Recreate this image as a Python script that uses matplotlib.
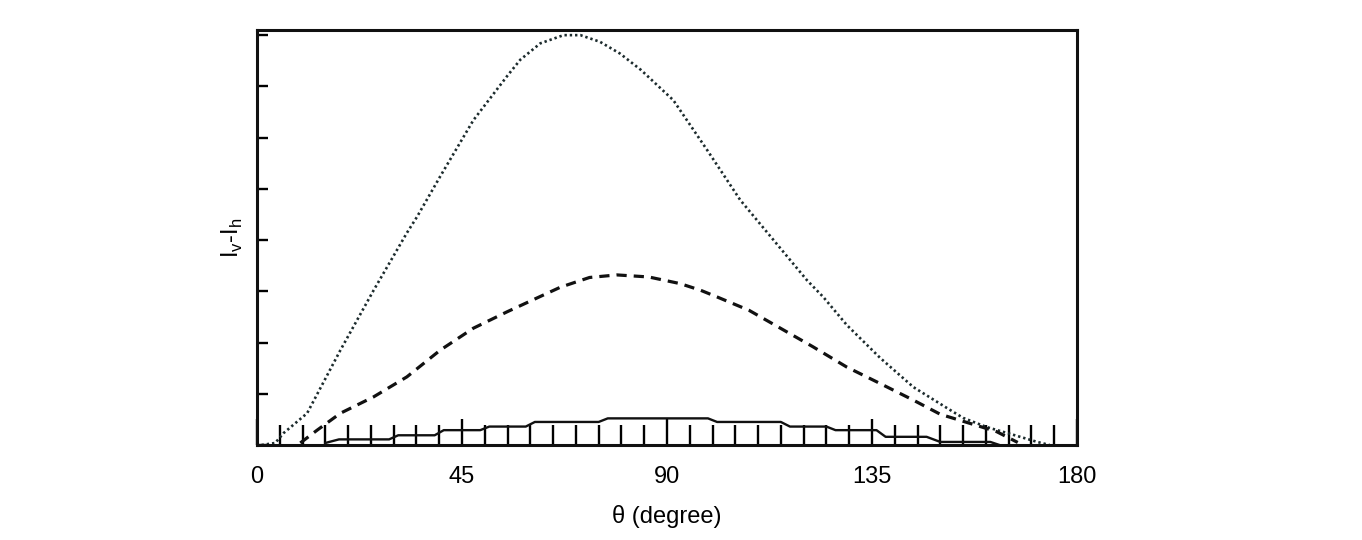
import matplotlib
matplotlib.use("Agg")
import matplotlib.pyplot as plt

plt.rcParams["font.family"] = ["Liberation Sans", "DejaVu Sans"]

# dotted curve (largest)
theta_dot = [1, 4, 5.8, 11, 18.3, 25.6, 32.9, 35.1, 40.2, 47.5, 54.9, 57.8, 62.2, 67.3, 71,
             75.3, 79.7, 84.3, 91.4, 98.8, 106.1, 113.4, 120.7, 124.3, 129.5, 136.8, 144.1,
             151.5, 155, 160.2, 166, 171.3, 174]
val_dot = [0.0, 0.04, 0.23, 0.62, 1.85, 3.02, 4.14, 4.45, 5.24, 6.34, 7.2, 7.52, 7.84, 8.0, 8.0,
           7.87, 7.64, 7.32, 6.73, 5.76, 4.78, 4.0, 3.22, 2.89, 2.34, 1.70, 1.13,
           0.72, 0.53, 0.35, 0.2, 0.06, 0.0]

# dashed curve (middle)
theta_dash = [9.5, 13.2, 18.3, 25.6, 32.9, 40.2, 47.5, 54.9, 62.2, 66.6, 73, 79, 86, 92.9, 97.4,
              101, 108, 114.9, 122, 129.5, 136.8, 144, 150, 158.8, 162.4, 167]
val_dash = [0.04, 0.29, 0.62, 0.94, 1.33, 1.85, 2.28, 2.6, 2.9, 3.08, 3.27, 3.32, 3.28, 3.15, 3.02,
            2.89, 2.63, 2.28, 1.92, 1.52, 1.2, 0.88, 0.6, 0.36, 0.26, 0.05]

# solid curve (smallest, stepped)
theta_sol = [15, 18, 29, 31, 39, 41, 49, 51, 59, 61, 75, 77, 99, 101, 115, 117, 125, 127,
             136, 138, 147, 150, 161, 163]
val_sol = [0.04, 0.11, 0.11, 0.19, 0.19, 0.29, 0.29, 0.36, 0.36, 0.45, 0.45, 0.52, 0.52, 0.45,
           0.45, 0.36, 0.36, 0.29, 0.29, 0.16, 0.16, 0.06, 0.06, 0.0]

x_major = [0, 45, 90, 135, 180]
x_minor = list(range(5, 180, 5))
y_ticks = list(range(0, 9))

fig = plt.figure(figsize=(13.62, 5.4), dpi=100)
ax = fig.add_axes([0.1887, 0.1759, 0.602, 0.7685])

ax.plot(theta_dot, val_dot, color="#1c2b2d", lw=1.9, linestyle=(0, (0.9, 1.1)))
ax.plot(theta_dash, val_dash, color="#111111", lw=2.3, linestyle=(0, (3.2, 2.2)))
ax.plot(theta_sol, val_sol, color="#111111", lw=1.7)

ax.set_xlim(0, 180)
ax.set_ylim(0, 8.1)

ax.set_xticks(x_major)
ax.set_xticklabels([str(v) for v in x_major], fontsize=17)
ax.set_xticks(x_minor, minor=True)
ax.tick_params(axis="x", which="major", direction="in", length=19, width=1.7, pad=15)
ax.tick_params(axis="x", which="minor", direction="in", length=14.5, width=1.7)
ax.set_yticks(y_ticks)
ax.set_yticklabels([])
ax.tick_params(axis="y", which="major", direction="in", length=8, width=1.7)
ax.tick_params(axis="y", which="minor", left=False)

for s in ax.spines.values():
    s.set_linewidth(2.2)
    s.set_color("#111111")

ax.set_xlabel("θ (degree)", fontsize=17, labelpad=12)
ax.set_ylabel(r"I$_\mathregular{v}$-I$_\mathregular{h}$", fontsize=17, labelpad=5)

fig.savefig("out.png", dpi=100)
